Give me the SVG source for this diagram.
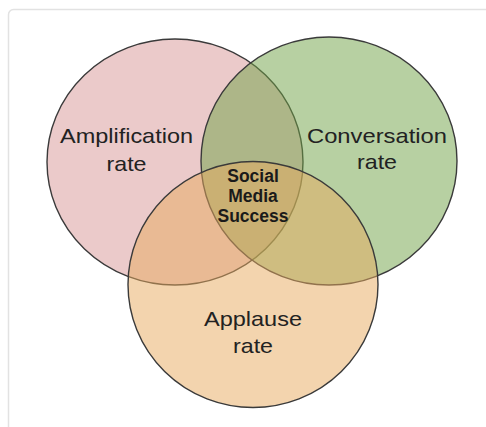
<svg xmlns="http://www.w3.org/2000/svg" width="486" height="427" viewBox="0 0 486 427">
<style>
.set{stroke:#3a3a3a;stroke-width:1.4;fill-opacity:0.5}
.lbl{font-family:"Liberation Sans",Arial,sans-serif;font-size:21px;fill:#222;text-anchor:middle}
.core{font-family:"Liberation Sans",Arial,sans-serif;font-size:17.5px;font-weight:bold;fill:#1a1a1a;text-anchor:middle}
</style>
<rect x="0" y="0" width="486" height="427" fill="#ffffff"/>
<rect x="8.5" y="9.5" width="500" height="450" rx="5" fill="#ffffff" stroke="#e2e2e2" stroke-width="1.5"/>
<g id="amplification">
<ellipse class="set" cx="175" cy="162" rx="128" ry="123" fill="#d79595"/>
</g>
<g id="conversation">
<ellipse class="set" cx="329" cy="161" rx="128" ry="124" fill="#6fa145"/>
</g>
<g id="applause">
<ellipse class="set" cx="253" cy="284.5" rx="125" ry="123" fill="#e7a95d"/>
</g>
<g id="labels">
<text class="lbl" x="126.5" y="143" textLength="133" lengthAdjust="spacingAndGlyphs">Amplification</text>
<text class="lbl" x="126.5" y="171" textLength="40" lengthAdjust="spacingAndGlyphs">rate</text>
<text class="lbl" x="377" y="142.5" textLength="140" lengthAdjust="spacingAndGlyphs">Conversation</text>
<text class="lbl" x="377" y="169" textLength="40" lengthAdjust="spacingAndGlyphs">rate</text>
<text class="lbl" x="253" y="326" textLength="98" lengthAdjust="spacingAndGlyphs">Applause</text>
<text class="lbl" x="253" y="352.5" textLength="40" lengthAdjust="spacingAndGlyphs">rate</text>
</g>
<g id="center">
<text class="core" x="253" y="182">Social</text>
<text class="core" x="253" y="202">Media</text>
<text class="core" x="253" y="222">Success</text>
</g>
</svg>
